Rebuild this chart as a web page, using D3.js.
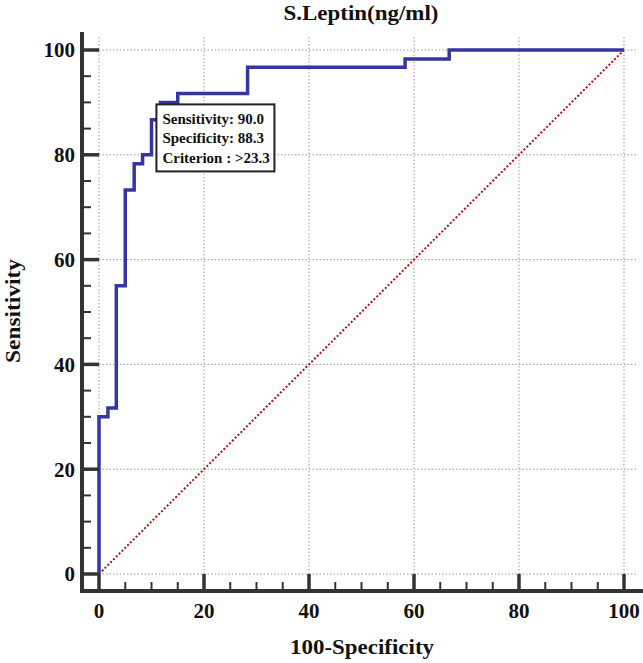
<!DOCTYPE html>
<html>
<head>
<meta charset="utf-8">
<script src="https://cdn.jsdelivr.net/npm/d3@7"></script>
<style>
  body { margin: 0; background: #fff; }
  text { font-family: "Liberation Serif", "Times New Roman", serif; font-weight: bold; fill: #111; }
</style>
</head>
<body>
<svg></svg>
<script>
// ROC step corners (curveStepBefore): 100-Specificity vs Sensitivity
const fpr = [0, 1.7, 3.3, 5, 6.7, 8.3, 10, 11.7, 15, 28.3, 58.3, 66.7, 100];
const tpr = [0, 30, 31.7, 55, 73.3, 78.3, 80, 86.7, 90, 91.7, 96.7, 98.3, 100];
const majorTicks = [0, 20, 40, 60, 80, 100];
const boxLines = ['Sensitivity: 90.0', 'Specificity: 88.3', 'Criterion : >23.3'];
const criterion = [11.7, 90];

const W = 643, H = 663;

const svg = d3.select('svg')
    .attr('width', W)
    .attr('height', H);

const x = d3.scaleLinear().domain([0, 100]).range([99, 624]);
const y = d3.scaleLinear().domain([0, 100]).range([574, 50]);

const axisX = 82, axisY = 591;

// grid
const grid = svg.append('g')
    .attr('stroke', '#9a9a9a')
    .attr('stroke-width', 1)
    .attr('stroke-dasharray', '1.5,2');

grid.selectAll('.gv').data(majorTicks).join('line')
    .attr('x1', d => x(d)).attr('x2', d => x(d))
    .attr('y1', y(0)).attr('y2', 37);

grid.selectAll('.gh').data(majorTicks).join('line')
    .attr('x1', x(0)).attr('x2', 638)
    .attr('y1', d => y(d)).attr('y2', d => y(d));

// diagonal reference
svg.append('line')
    .attr('x1', x(0)).attr('y1', y(0))
    .attr('x2', x(100)).attr('y2', y(100))
    .attr('stroke', '#b0141a')
    .attr('stroke-width', 2)
    .attr('stroke-dasharray', '2,2');

// ROC curve
const pts = fpr.map((d, i) => [d, tpr[i]]);
svg.append('path')
    .datum(pts)
    .attr('fill', 'none')
    .attr('stroke', '#3535a3')
    .attr('stroke-width', 3.5)
    .attr('d', d3.line()
        .x(d => x(d[0]))
        .y(d => y(d[1]))
        .curve(d3.curveStepBefore));

// axes
const minor = d3.range(5, 100, 5).filter(v => v % 20 !== 0);
const ax = svg.append('g').attr('stroke', '#333');

ax.append('line')
    .attr('x1', axisX).attr('x2', axisX)
    .attr('y1', 32).attr('y2', axisY + 2)
    .attr('stroke-width', 4);
ax.append('line')
    .attr('x1', axisX - 2).attr('x2', W)
    .attr('y1', axisY).attr('y2', axisY)
    .attr('stroke-width', 4);

ax.selectAll('.ym').data(majorTicks).join('line')
    .attr('x1', axisX).attr('x2', x(0))
    .attr('y1', d => y(d)).attr('y2', d => y(d))
    .attr('stroke-width', 3.5);
ax.selectAll('.yn').data(minor).join('line')
    .attr('x1', axisX).attr('x2', axisX + 9)
    .attr('y1', d => y(d)).attr('y2', d => y(d))
    .attr('stroke-width', 2);
ax.selectAll('.xm').data(majorTicks).join('line')
    .attr('x1', d => x(d)).attr('x2', d => x(d))
    .attr('y1', axisY).attr('y2', y(0))
    .attr('stroke-width', 3.5);
ax.selectAll('.xn').data(minor).join('line')
    .attr('x1', d => x(d)).attr('x2', d => x(d))
    .attr('y1', axisY).attr('y2', axisY - 9)
    .attr('stroke-width', 2);

svg.selectAll('.yl').data(majorTicks).join('text')
    .attr('x', 75)
    .attr('y', d => y(d))
    .attr('dy', '0.35em')
    .attr('text-anchor', 'end')
    .attr('font-size', 21)
    .text(d => d);

svg.selectAll('.xl').data(majorTicks).join('text')
    .attr('x', d => x(d))
    .attr('y', 618)
    .attr('text-anchor', 'middle')
    .attr('font-size', 21)
    .text(d => d);

// titles
svg.append('text')
    .attr('x', 361).attr('y', 20)
    .attr('text-anchor', 'middle')
    .attr('font-size', 22)
    .attr('textLength', 155)
    .attr('lengthAdjust', 'spacingAndGlyphs')
    .text('S.Leptin(ng/ml)');

svg.append('text')
    .attr('x', 362).attr('y', 654)
    .attr('text-anchor', 'middle')
    .attr('font-size', 22)
    .attr('textLength', 144)
    .attr('lengthAdjust', 'spacingAndGlyphs')
    .text('100-Specificity');

svg.append('text')
    .attr('transform', 'translate(20,311) rotate(-90)')
    .attr('text-anchor', 'middle')
    .attr('font-size', 22)
    .attr('textLength', 104)
    .attr('lengthAdjust', 'spacingAndGlyphs')
    .text('Sensitivity');

// criterion box
const bx = x(criterion[0]) - 4, by = y(criterion[1]) + 2;
svg.append('rect')
    .attr('x', bx).attr('y', by)
    .attr('width', 118).attr('height', 67)
    .attr('fill', '#fff')
    .attr('stroke', '#222')
    .attr('stroke-width', 2);

svg.selectAll('.bl').data(boxLines).join('text')
    .attr('x', bx + 6)
    .attr('y', (d, i) => by + 19.5 + i * 19.5)
    .attr('font-size', 15)
    .text(d => d);
</script>
</body>
</html>
